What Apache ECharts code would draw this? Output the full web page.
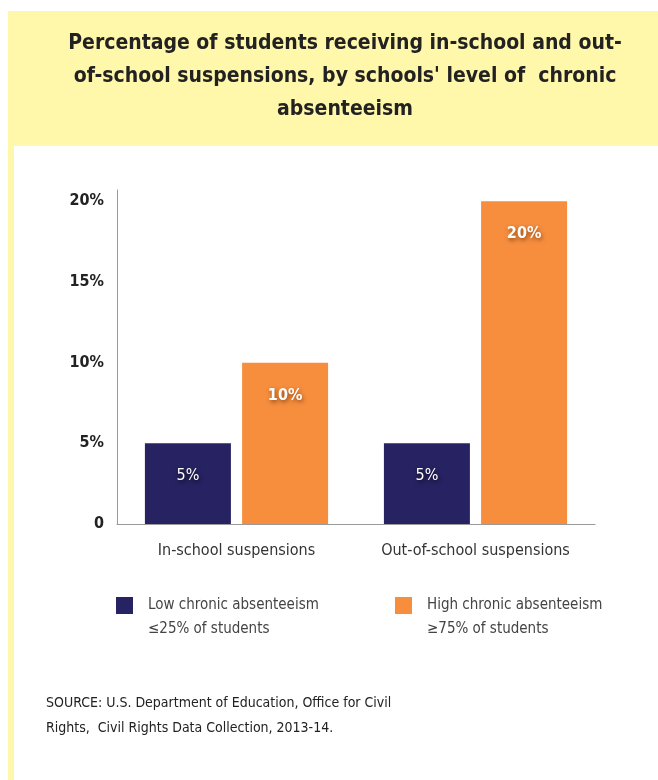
<!DOCTYPE html>
<html>
<head>
<meta charset="utf-8">
<script src="https://cdn.jsdelivr.net/npm/echarts@6/dist/echarts.min.js"></script>
<style>
  html, body { margin: 0; padding: 0; background: #fff; }
  #chart { width: 658px; height: 780px; }
</style>
</head>
<body>
<div id="chart"></div>
<script>
// data
const categories = ["In-school suspensions", "Out-of-school suspensions"];
const seriesNames = ["Low chronic absenteeism", "High chronic absenteeism"];
const seriesNotes = ["≤25% of students", "≥75% of students"];
const lowValues = [5, 5];
const highValues = [10, 20];
const yTicks = [0, 5, 10, 15, 20];

const FONT = "'DejaVu Sans Condensed', 'Liberation Sans Narrow', sans-serif";
const NAVY = "#272262";
const ORANGE = "#F68E3E";
const legendLeft = [116, 395];

const chart = echarts.init(document.getElementById("chart"));

function legendFor(i) {
  return {
    data: [seriesNames[i]],
    left: legendLeft[i],
    top: 597,
    icon: "rect",
    itemWidth: 17,
    itemHeight: 17,
    itemGap: 0,
    padding: 0,
    selectedMode: false,
    textStyle: {
      fontFamily: FONT,
      fontSize: 15,
      color: "#444",
      padding: [0, 0, 0, 10]
    }
  };
}

// second line under each legend entry
function noteFor(i) {
  return {
    type: "text",
    left: legendLeft[i] + 32,
    top: 622,
    style: {
      text: seriesNotes[i],
      font: "15px " + FONT,
      fill: "#444"
    }
  };
}

chart.setOption({
  animation: false,
  backgroundColor: "#fff",
  graphic: [
    // yellow header band
    { type: "rect", shape: { x: 8, y: 11, width: 650, height: 135 }, style: { fill: "#FFF7AA" }, z: -10 },
    // yellow strip along the left edge
    { type: "rect", shape: { x: 8, y: 146, width: 6, height: 634 }, style: { fill: "#FFF7AA" }, z: -10 },
    noteFor(0),
    noteFor(1),
    {
      type: "text",
      left: 46,
      top: 691,
      style: {
        text: "SOURCE: U.S. Department of Education, Office for Civil\nRights,  Civil Rights Data Collection, 2013-14.",
        font: "14px " + FONT,
        fill: "#222",
        lineHeight: 25
      }
    }
  ],
  title: {
    text: "Percentage of students receiving in-school and out-\nof-school suspensions, by schools' level of  chronic\nabsenteeism",
    left: 340,
    top: 22,
    textAlign: "center",
    textStyle: {
      fontFamily: FONT,
      fontSize: 21,
      fontWeight: "bold",
      color: "#222",
      lineHeight: 33
    }
  },
  legend: [legendFor(0), legendFor(1)],
  grid: {
    left: 117,
    right: 63,
    top: 190,
    bottom: 256,
    containLabel: false
  },
  xAxis: {
    type: "category",
    data: categories,
    axisTick: { show: false },
    axisLine: { lineStyle: { color: "#9a9a9a", width: 1 } },
    axisLabel: {
      interval: 0,
      fontFamily: FONT,
      fontSize: 16,
      color: "#333",
      margin: 19
    }
  },
  yAxis: {
    type: "value",
    min: 0,
    max: 20.7,
    interval: 5,
    splitLine: { show: false },
    axisTick: { show: false },
    axisLine: { show: true, lineStyle: { color: "#9a9a9a", width: 1 } },
    axisLabel: {
      showMaxLabel: false,
      margin: 13,
      fontFamily: FONT,
      fontSize: 16,
      fontWeight: "bold",
      color: "#222",
      formatter: function (v) {
        if (yTicks.indexOf(v) < 0) return "";
        return v === 0 ? "0" : v + "%";
      }
    }
  },
  series: [
    {
      name: seriesNames[0],
      type: "bar",
      data: lowValues,
      barWidth: 86,
      barGap: "13%",
      itemStyle: { color: NAVY },
      label: {
        show: true,
        position: "insideTop",
        distance: 25,
        formatter: "{c}%",
        fontFamily: FONT,
        fontSize: 16,
        color: "#fff",
        textShadowColor: "rgba(0,0,0,0.8)",
        textShadowBlur: 4,
        textShadowOffsetX: 1,
        textShadowOffsetY: 2
      }
    },
    {
      name: seriesNames[1],
      type: "bar",
      data: highValues,
      barWidth: 86,
      itemStyle: { color: ORANGE },
      label: {
        show: true,
        position: "insideTop",
        distance: 25,
        formatter: "{c}%",
        fontFamily: FONT,
        fontSize: 16,
        fontWeight: "bold",
        color: "#fff",
        textShadowColor: "rgba(110,50,10,0.8)",
        textShadowBlur: 4,
        textShadowOffsetX: 1,
        textShadowOffsetY: 2
      }
    }
  ]
});
</script>
</body>
</html>
